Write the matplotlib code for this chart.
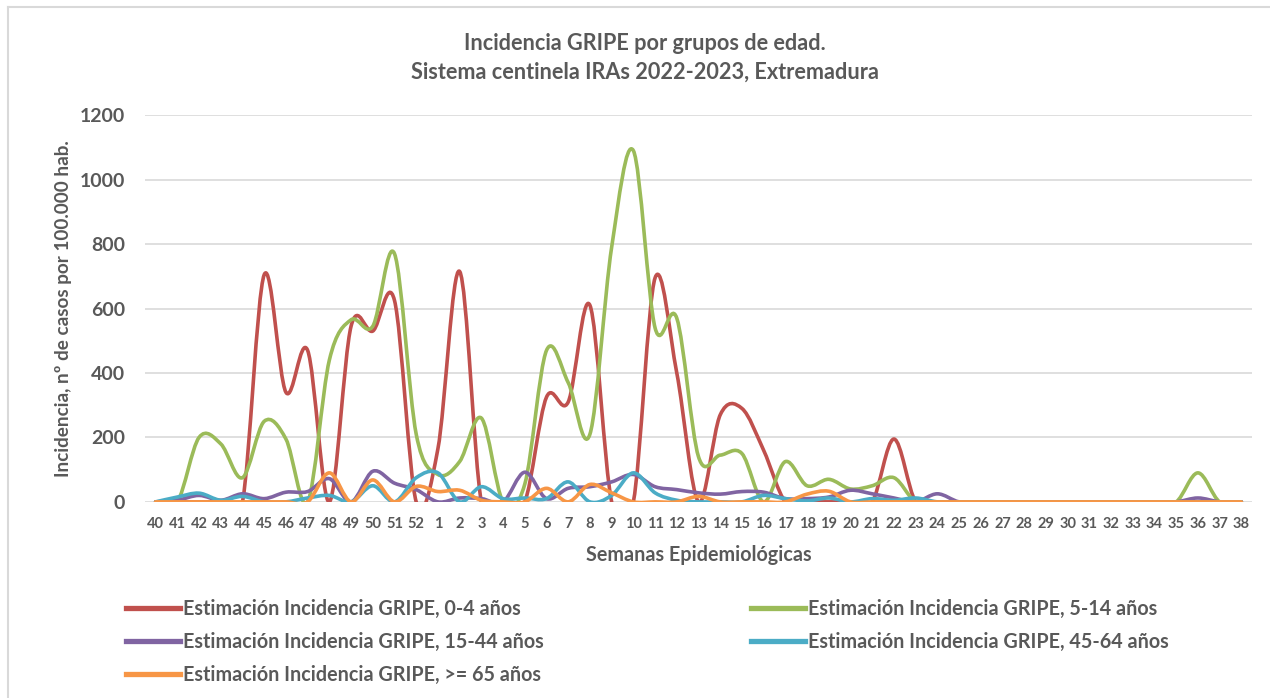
import matplotlib.pyplot as plt
from matplotlib.path import Path
from matplotlib.patches import PathPatch
from matplotlib.lines import Line2D

plt.rcParams['font.family'] = ['Lato', 'DejaVu Sans']

semanas = [str(s) for s in list(range(40, 53)) + list(range(1, 39))]

inc_0_4 = [0, 0, 0, 0, 0, 705, 340, 470, 0, 545, 530, 625, 0, 165, 715, 0, 0, 0,
           325, 310, 610, 0, 0, 695, 400, 0, 270, 290, 160, 0, 0, 0, 0, 0, 195, 0,
           0, 0, 0, 0, 0, 0, 0, 0, 0, 0, 0, 0, 0, 0, 0]
inc_5_14 = [0, 0, 200, 180, 75, 250, 195, 0, 440, 565, 545, 770, 210, 85, 125, 260,
            0, 55, 470, 370, 210, 790, 1090, 540, 570, 140, 145, 150, 0, 125, 50,
            70, 40, 50, 75, 0, 0, 0, 0, 0, 0, 0, 0, 0, 0, 0, 0, 0, 90, 0, 0]
inc_15_44 = [0, 5, 20, 5, 25, 10, 30, 32, 72, 0, 95, 58, 38, 0, 12, 10, 0, 92, 10,
             42, 47, 62, 85, 47, 38, 28, 24, 32, 30, 10, 10, 15, 36, 25, 12, 0, 25,
             0, 0, 0, 0, 0, 0, 0, 0, 0, 0, 0, 12, 0, 0]
inc_45_64 = [0, 15, 27, 5, 17, 0, 0, 12, 20, 0, 50, 0, 75, 90, 0, 47, 10, 12, 10,
             62, 0, 20, 90, 28, 5, 0, 0, 0, 20, 10, 3, 12, 0, 10, 5, 12, 0, 0, 0,
             0, 0, 0, 0, 0, 0, 0, 0, 0, 0, 0, 0]
inc_65 = [0, 0, 0, 0, 0, 0, 0, 0, 90, 0, 68, 0, 48, 32, 36, 5, 0, 0, 42, 0, 54, 28,
          0, 0, 0, 17, 0, 0, 0, 0, 24, 33, 0, 0, 0, 0, 0, 0, 0, 0, 0, 0, 0, 0, 0, 0,
          0, 0, 0, 0, 0]

series = [
    ("Estimación Incidencia GRIPE, 0-4 años", inc_0_4, "#C0504D"),
    ("Estimación Incidencia GRIPE, 5-14 años", inc_5_14, "#9BBB59"),
    ("Estimación Incidencia GRIPE, 15-44 años", inc_15_44, "#8064A2"),
    ("Estimación Incidencia GRIPE, 45-64 años", inc_45_64, "#4BACC6"),
    ("Estimación Incidencia GRIPE, >= 65 años", inc_65, "#F79646"),
]


def smooth_path(y):
    # excel-like smoothed line: cubic bezier segments (catmull-rom tangents)
    n = len(y)
    x = list(range(n))
    verts = [(x[0], y[0])]
    codes = [Path.MOVETO]
    for i in range(n - 1):
        p0 = max(i - 1, 0)
        p3 = min(i + 2, n - 1)
        c1 = (x[i] + (x[i + 1] - x[p0]) / 6, y[i] + (y[i + 1] - y[p0]) / 6)
        c2 = (x[i + 1] - (x[p3] - x[i]) / 6, y[i + 1] - (y[p3] - y[i]) / 6)
        verts += [c1, c2, (x[i + 1], y[i + 1])]
        codes += [Path.CURVE4] * 3
    return Path(verts, codes)


gris = "#595959"
fig = plt.figure(figsize=(12.7, 6.98), dpi=100)
ax = fig.add_axes([0.114, 0.281, 0.872, 0.554])

for nombre, vals, col in series:
    ax.add_patch(PathPatch(smooth_path(vals), fill=False, edgecolor=col, lw=2.6,
                           capstyle='round', joinstyle='round', zorder=3))

ax.set_xlim(-0.5, len(semanas) - 0.5)
ax.set_ylim(0, 1200)
ax.set_yticks(range(0, 1201, 200))
ax.set_xticks(range(len(semanas)))
ax.set_xticklabels(semanas)
ax.grid(axis='y', color='#D9D9D9', lw=1.2)
ax.set_axisbelow(True)
for s in ax.spines.values():
    s.set_visible(False)
ax.tick_params(length=0)
ax.tick_params(axis='y', labelsize=14, labelcolor=gris, pad=14)
ax.tick_params(axis='x', labelsize=10.5, labelcolor=gris, pad=11)
for t in ax.get_xticklabels() + ax.get_yticklabels():
    t.set_fontweight('bold')

ax.set_xlabel("Semanas Epidemiológicas", fontsize=14.2, fontweight='bold',
              color=gris, labelpad=10)
ax.set_ylabel("Incidencia, nº de casos por 100.000 hab.", fontsize=13.6,
              fontweight='bold', color=gris, labelpad=5.5)

fig.text(0.508, 0.917, "Incidencia GRIPE por grupos de edad.\nSistema centinela IRAs 2022-2023, Extremadura",
         ha='center', va='center', fontsize=15.6, fontweight='bold', color=gris,
         linespacing=1.45)

handles = [Line2D([], [], color=c, lw=3.8) for _, _, c in series]
labels = [n for n, _, _ in series]
order = [0, 2, 4, 1, 3]
fig.legend([handles[i] for i in order], [labels[i] for i in order],
           loc='upper left', bbox_to_anchor=(0.099, 0.142), ncol=2,
           frameon=False, handlelength=2.75, handletextpad=0.15,
           columnspacing=10.5, labelspacing=0.66, borderpad=0, borderaxespad=0,
           prop={'weight': 'bold', 'size': 14.2})
for t in fig.legends[0].get_texts():
    t.set_color(gris)

# outer chart frame
fig.add_artist(Line2D([0.0063, 1.0], [0.99, 0.99], color='#D9D9D9', lw=1.5))
fig.add_artist(Line2D([0.0063, 0.0063], [0.0, 0.99], color='#D9D9D9', lw=1.5))

fig.savefig("out.png", dpi=100)
